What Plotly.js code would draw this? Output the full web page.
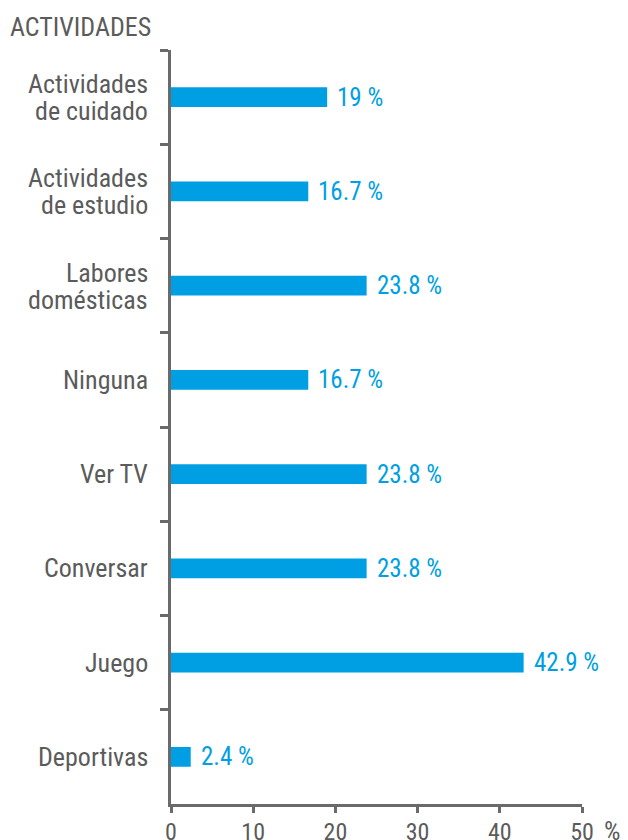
<!DOCTYPE html>
<html>
<head>
<meta charset="utf-8">
<script src="https://cdn.plot.ly/plotly-3.0.1.min.js"></script>
<style>html,body{margin:0;padding:0;background:#fff;}#chart{width:628px;height:840px;}</style>
</head>
<body>
<div id="chart"></div>
<script>
var categories = ["Actividades de cuidado", "Actividades de estudio", "Labores domésticas", "Ninguna", "Ver TV", "Conversar", "Juego", "Deportivas"];
var categoryLines = [["Actividades", "de cuidado"], ["Actividades", "de estudio"], ["Labores", "domésticas"], ["Ninguna"], ["Ver TV"], ["Conversar"], ["Juego"], ["Deportivas"]];
var values = [19, 16.7, 23.8, 16.7, 23.8, 23.8, 42.9, 2.4];
var valueLabels = ["19 %", "16.7 %", "23.8 %", "16.7 %", "23.8 %", "23.8 %", "42.9 %", "2.4 %"];
var xTicks = [0, 10, 20, 30, 40, 50];

var FONT = "'Roboto Condensed', 'Liberation Sans Narrow', 'Arial Narrow', 'DejaVu Sans Condensed', sans-serif";
var GRAY = "#5b5b5b";
var AXIS = "#6a6a6a";
var BLUE = "#009fe3";

var annotations = [];
categories.forEach(function(c, i) {
  annotations.push({x: values[i], y: c, xref: "x", yref: "y", text: valueLabels[i], showarrow: false,
          xanchor: "left", xshift: 8, font: {family: FONT, size: 25, color: BLUE}});
  var lines = categoryLines[i];
  lines.forEach(function(line, j) {
    var shift = lines.length === 1 ? 0 : (j === 0 ? 13 : -14);
    annotations.push({x: 0, y: c, xref: "x", yref: "y", text: line, showarrow: false,
      xanchor: "right", yanchor: "middle", xshift: -21, yshift: shift,
      font: {family: FONT, size: 26, color: GRAY}});
  });
});
annotations.push({x: 0, y: 1, xref: "paper", yref: "paper", text: "ACTIVIDADES", showarrow: false,
  xanchor: "left", yanchor: "bottom", xshift: -163, yshift: 6, font: {family: FONT, size: 26, color: GRAY}});
annotations.push({x: 1, y: 0, xref: "paper", yref: "paper", text: "%", showarrow: false,
  xanchor: "left", yanchor: "top", xshift: 20, yshift: -10, font: {family: FONT, size: 26, color: GRAY}});

var data = [{
  type: "bar", orientation: "h", x: values, y: categories,
  marker: {color: BLUE}, width: 0.21, hoverinfo: "none"
}];

var layout = {
  width: 628, height: 840,
  margin: {l: 171, r: 46, t: 50, b: 36, pad: 0},
  paper_bgcolor: "#fff", plot_bgcolor: "#fff",
  showlegend: false,
  font: {family: FONT, size: 24, color: GRAY},
  xaxis: {range: [0, 50], tickvals: xTicks, ticktext: xTicks.map(String), showgrid: false, zeroline: false,
          showline: true, linecolor: AXIS, linewidth: 3, ticks: "outside", ticklen: 6, tickwidth: 3, tickcolor: AXIS,
          ticklabelstandoff: -2,
          tickfont: {family: FONT, size: 24, color: GRAY}, fixedrange: true},
  yaxis: {type: "category", categoryorder: "array", categoryarray: categories, range: [7.5, -0.5],
          showgrid: false, zeroline: false, showline: true, linecolor: AXIS, linewidth: 3,
          ticks: "outside", tickson: "boundaries", ticklen: 8, tickwidth: 3, tickcolor: AXIS,
          showticklabels: false, fixedrange: true},
  annotations: annotations
};

Plotly.newPlot("chart", data, layout, {displayModeBar: false, staticPlot: true});
</script>
</body>
</html>
